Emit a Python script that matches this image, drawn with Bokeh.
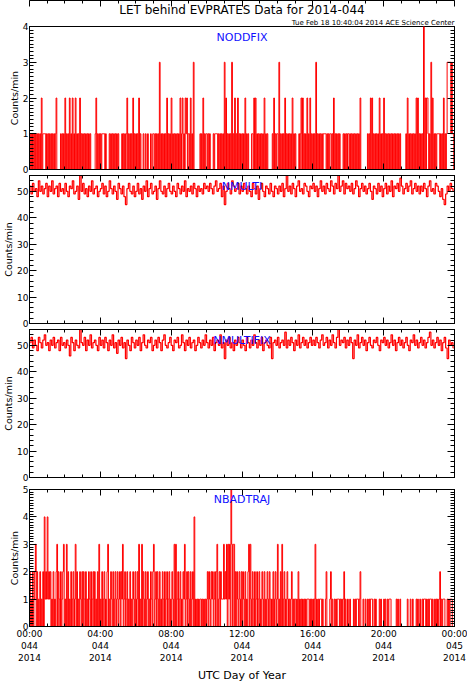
from bokeh.plotting import figure
from bokeh.layouts import column
from bokeh.models import (Range1d, LinearAxis, SingleIntervalTicker, Label, Title,
                          ColumnDataSource, CustomJSTickFormatter)
from bokeh.embed import file_html
from bokeh.resources import INLINE

# ---------------- data ----------------
TITLE = "LET behind EVPRATES Data for 2014-044"
SUBTITLE = "Tue Feb 18 10:40:04 2014 ACE Science Center"
PANEL_NAMES = ["NODDFIX", "NMULTI", "NMULTIFIX", "NBADTRAJ"]
Y_LABEL = "Counts/min"
X_LABEL = "UTC Day of Year"
Y_MAX = [4, 56, 56, 5]
Y_TICK_STEP = [1, 10, 10, 1]
Y_MINOR = [10, 5, 5, 10]
X_TICK_POS = [0, 240, 480, 720, 960, 1200, 1440]          # minutes of day
X_TICK_LABELS = ["00:00\n044\n2014", "04:00\n044\n2014", "08:00\n044\n2014",
                 "12:00\n044\n2014", "16:00\n044\n2014", "20:00\n044\n2014",
                 "00:00\n045\n2014"]

# NODDFIX, read at 2.5-minute resolution (one row = one hour)
noddfix = [
    1,0,1,0,1,0,1,0,1,0,1,0,1,0,1,0,2,0,1,1,1,1,0,1,
    0,1,0,1,0,1,0,1,0,1,0,1,2,0,0,0,0,0,1,0,1,0,1,0,
    2,0,1,0,1,0,2,0,1,0,2,0,1,0,2,0,1,0,1,0,2,0,1,0,
    1,0,1,0,1,0,1,0,1,0,1,0,0,0,0,0,0,1,2,0,1,0,1,0,
    1,0,1,1,1,1,0,1,0,0,0,0,1,0,1,0,1,0,1,0,1,0,1,0,
    1,0,0,0,0,1,0,1,0,1,0,1,2,0,1,0,1,0,1,0,2,0,1,0,
    1,0,1,0,2,0,1,0,0,0,1,0,0,1,0,0,1,0,0,0,1,0,0,1,
    1,0,1,0,1,0,1,0,3,0,1,0,1,0,1,0,1,0,2,0,1,0,1,0,
    2,0,1,0,1,0,1,0,1,0,1,0,2,0,1,2,0,1,0,2,1,2,0,1,
    1,0,2,0,1,0,3,0,0,0,0,0,0,0,0,1,0,1,0,2,0,1,0,1,
    1,0,1,0,1,0,0,0,0,1,0,1,1,1,1,0,1,0,1,0,1,0,1,0,
    3,0,2,0,1,0,1,0,1,0,3,0,1,0,2,0,1,0,2,0,1,0,1,0,
    1,0,1,0,2,0,1,0,1,0,0,0,0,1,1,0,2,0,2,0,1,0,1,0,
    1,0,1,0,1,0,2,0,1,0,1,0,0,0,0,0,0,1,0,2,0,1,0,1,
    1,0,3,0,1,0,1,0,1,0,2,0,1,0,1,0,1,0,1,0,2,0,1,0,
    1,0,0,0,0,1,0,1,2,0,2,0,1,0,1,0,2,0,1,0,2,0,1,0,
    1,0,1,0,3,0,1,0,1,0,1,0,1,0,1,1,1,1,0,1,0,1,0,1,
    1,0,1,0,2,0,1,0,1,0,1,0,1,0,0,0,0,1,0,1,0,1,0,1,
    1,0,1,0,1,0,1,0,1,0,1,0,1,0,1,0,2,0,0,0,0,0,0,0,
    0,0,1,0,1,0,2,0,2,0,1,0,1,0,1,0,1,0,2,0,1,0,1,0,
    2,0,1,0,1,0,1,0,1,0,1,0,1,0,1,0,1,0,1,0,1,0,1,0,
    0,0,0,0,0,0,1,0,2,0,1,0,1,0,1,0,1,0,1,0,2,0,2,0,
    1,0,1,0,1,0,4,0,2,0,2,2,1,0,1,0,3,0,2,0,1,0,1,0,
    1,1,1,1,0,1,0,1,0,2,0,1,0,1,3,3,3,3,3,1,3,1,1,0,
]

# NMULTI, read at 5-minute resolution (one row = two hours)
nmulti = [
    52,49,53,50,51,48,54,50,52,49,51,53,48,52,50,54,49,51,52,48,53,50,51,49,
    53,50,48,52,51,54,49,50,52,47,56,50,53,49,51,48,52,50,54,49,51,52,48,50,
    51,53,49,52,48,50,54,51,49,52,50,47,53,51,49,52,48,45,51,53,50,49,52,48,
    50,53,49,51,47,52,50,54,48,51,53,49,50,52,47,51,54,50,49,52,48,51,53,50,
    49,52,50,48,53,51,49,52,50,54,48,51,50,52,49,53,51,48,52,50,51,49,53,51,
    52,50,53,51,49,52,54,50,51,53,48,52,45,50,53,51,49,54,52,50,51,53,49,52,
    50,53,51,49,52,50,48,53,51,49,52,47,51,53,50,48,52,51,49,53,50,48,52,51,
    49,52,50,53,48,51,56,50,52,49,53,51,48,52,54,50,51,49,53,52,50,48,52,51,
    53,50,52,48,51,54,50,52,49,53,51,50,54,52,49,53,51,56,50,52,54,49,53,51,
    52,50,53,49,51,54,52,48,51,53,50,52,49,51,53,50,47,52,51,49,53,50,52,48,
    51,53,49,52,50,54,48,52,51,53,50,55,52,49,51,53,50,52,54,49,51,53,50,52,
    49,52,50,53,51,48,52,54,50,51,49,53,52,50,48,51,47,45,49,52,50,53,51,50,
]

# NMULTIFIX, read at 5-minute resolution (one row = two hours)
nmultifix = [
    51,53,49,52,50,48,53,51,49,52,54,50,51,48,52,50,53,49,51,52,48,53,50,51,
    49,52,50,46,53,51,48,52,50,49,56,51,50,53,48,52,50,54,49,51,52,50,48,53,
    50,52,49,53,51,48,52,50,54,49,51,47,52,50,53,49,51,45,52,50,48,53,51,49,
    52,50,53,48,51,54,50,49,52,51,53,48,50,52,49,53,51,48,52,54,50,49,51,53,
    50,48,52,51,53,49,50,54,51,48,52,50,53,49,51,52,48,50,53,51,49,52,50,54,
    51,49,52,50,53,48,51,52,50,54,49,51,45,52,50,53,49,51,48,52,50,53,51,49,
    52,50,48,53,51,49,52,50,54,51,49,52,50,53,48,51,52,50,49,53,45,51,52,50,
    53,49,51,52,50,55,49,52,50,53,51,48,52,50,54,49,51,53,50,52,49,51,53,50,
    52,50,53,51,49,52,54,50,51,53,49,52,50,54,51,49,53,56,50,52,51,53,49,52,
    50,53,51,45,52,50,54,49,51,53,50,52,48,51,53,50,49,52,51,53,50,48,52,51,
    53,50,52,49,51,54,50,52,48,51,53,50,52,49,51,53,50,48,52,51,54,50,52,49,
    51,53,50,52,49,51,53,55,50,52,49,51,53,50,52,48,51,53,49,45,52,50,51,49,
]

# NBADTRAJ, read at 2.5-minute resolution (one row = one hour)
nbadtraj = [
    2,0,1,0,2,0,1,2,3,0,2,0,1,0,2,0,1,0,2,0,4,1,2,1,
    4,1,2,1,2,0,1,0,2,0,1,0,2,3,0,2,1,0,2,0,1,2,3,0,
    1,0,3,0,2,0,1,0,2,0,1,2,0,1,3,0,2,0,1,0,2,1,0,2,
    0,2,1,0,2,0,1,0,2,1,0,2,0,1,2,0,2,0,1,0,2,0,3,0,
    1,0,2,0,1,2,0,1,0,2,3,0,1,0,2,1,0,2,0,1,2,0,1,2,
    0,1,2,0,2,1,3,0,1,2,0,1,2,0,1,0,2,0,1,0,2,1,0,2,
    0,1,2,0,3,0,1,0,3,0,2,1,0,2,0,1,2,0,1,0,2,1,0,2,
    3,0,1,2,0,2,1,0,2,0,1,0,2,1,0,2,0,1,2,0,1,2,0,1,
    0,2,1,0,3,0,3,0,1,2,0,1,2,0,1,0,2,1,3,0,1,2,0,2,
    1,0,2,0,1,2,0,4,0,1,0,1,0,1,0,1,1,0,1,0,1,0,1,0,
    1,2,0,2,1,0,2,1,2,0,1,2,0,2,3,0,1,2,0,2,1,1,1,3,
    1,2,1,3,0,3,1,3,0,5,3,0,3,3,0,2,0,2,1,0,2,1,0,2,
    0,2,1,0,2,0,1,0,2,3,0,3,1,0,2,1,0,2,0,1,2,0,1,2,
    0,1,0,2,1,0,2,0,1,0,2,1,0,2,1,0,1,0,2,0,1,2,0,1,
    3,0,1,0,2,0,3,0,1,2,0,1,0,2,1,0,1,0,1,2,0,1,0,1,
    1,0,1,0,2,0,1,0,1,0,1,0,1,0,1,0,1,1,1,0,1,0,1,0,
    1,0,1,3,0,1,0,1,0,1,1,1,0,1,0,0,0,1,2,0,0,0,0,1,
    2,0,1,0,0,1,0,1,0,1,1,1,0,1,0,1,0,1,2,0,1,0,0,1,
    0,0,1,0,0,0,0,1,0,1,0,1,1,1,0,1,2,0,0,0,1,0,0,1,
    0,0,1,0,1,0,1,1,1,0,0,1,0,1,0,0,0,0,1,0,1,0,0,0,
    1,0,1,0,0,1,0,1,1,1,0,0,0,0,0,0,0,1,0,1,0,0,1,0,
    0,0,0,0,0,0,0,0,1,0,0,0,1,0,0,1,0,0,0,0,1,0,1,0,
    0,1,0,0,1,0,1,1,1,0,1,0,1,0,1,1,1,0,1,0,0,1,0,1,
    0,1,0,1,2,0,1,0,1,1,1,0,0,0,1,0,1,0,1,1,1,0,0,0,
]

SERIES = [noddfix, nmulti, nmultifix, nbadtraj]
BIN_MINUTES = [2.5, 5, 5, 2.5]

# ---------------- layout ----------------
FONT = "DejaVu Sans"
W = 467
LEFT = 25
RIGHT = 13
# (fig height, border top, border bottom)
SIZES = [(175, 22, 6), (154, 0, 6), (154, 0, 6), (201, 6, 48)]
LINE_W = [1.0, 1.2, 1.2, 1.0]

overrides = {pos: lab for pos, lab in zip(X_TICK_POS, X_TICK_LABELS)}
BLANK = CustomJSTickFormatter(code="return ''")


def style_axis(ax, show_labels):
    ax.axis_line_color = "black"
    ax.major_tick_line_color = "black"
    ax.minor_tick_line_color = "black"
    ax.major_tick_out = 0
    ax.minor_tick_out = 0
    if show_labels:
        ax.major_label_text_font = FONT
        ax.major_label_text_font_size = "9px"
        ax.major_label_text_color = "black"
        ax.major_label_standoff = 1
    else:
        ax.formatter = BLANK
        ax.major_label_text_font_size = "0px"
        ax.major_label_standoff = 0


figs = []
for k in range(4):
    h, bt, bb = SIZES[k]
    frame_h = h - bt - bb
    ymax = Y_MAX[k]
    p = figure(width=W, height=h, x_range=Range1d(0, 1440), y_range=Range1d(0, ymax),
               x_axis_type=None, y_axis_type=None,
               output_backend="svg", toolbar_location=None,
               min_border_left=LEFT, min_border_right=RIGHT,
               min_border_top=bt, min_border_bottom=bb)
    p.outline_line_color = "black"
    p.outline_line_width = 1
    p.background_fill_color = "white"
    p.border_fill_color = "white"

    if k == 0:
        p.add_layout(Title(text=SUBTITLE, align="right", text_font=FONT, text_font_size="7px",
                           text_font_style="normal", text_color="black", standoff=0), "above")
        p.add_layout(Title(text=TITLE, align="center", text_font=FONT, text_font_size="12px",
                           text_font_style="normal", text_color="black", standoff=0), "above")

    # y axes (left labelled, right mirrored)
    for side in ("left", "right"):
        ax = LinearAxis(ticker=SingleIntervalTicker(interval=Y_TICK_STEP[k], num_minor_ticks=Y_MINOR[k]))
        ax.major_tick_in = 7
        ax.minor_tick_in = 4
        style_axis(ax, side == "left")
        if side == "left":
            ax.axis_label = Y_LABEL
            ax.axis_label_text_font = FONT
            ax.axis_label_text_font_size = "9.5px"
            ax.axis_label_text_font_style = "normal"
            ax.axis_label_text_color = "black"
            ax.axis_label_standoff = 0
        p.add_layout(ax, side)

    # x axes (top mirrored, bottom labelled only on last panel)
    for side in ("above", "below"):
        ax = LinearAxis(ticker=SingleIntervalTicker(interval=240, num_minor_ticks=4))
        ax.major_tick_in = 6
        ax.minor_tick_in = 3
        show = (side == "below" and k == 3)
        style_axis(ax, show)
        if show:
            ax.major_label_overrides = overrides
            ax.major_label_standoff = 2
            ax.axis_label = X_LABEL
            ax.axis_label_text_font = FONT
            ax.axis_label_text_font_size = "11px"
            ax.axis_label_text_font_style = "normal"
            ax.axis_label_text_color = "black"
            ax.axis_label_standoff = 3
        p.add_layout(ax, side)

    vals = SERIES[k]
    b = BIN_MINUTES[k]
    minutes = [i * b + b / 2 for i in range(len(vals))]
    src = ColumnDataSource(dict(t=minutes, v=vals))
    p.step("t", "v", source=src, mode="center", line_color="#ff0000", line_width=LINE_W[k])

    per_px = ymax / frame_h
    p.add_layout(Label(x=720, y=ymax - 11 * per_px, text=PANEL_NAMES[k],
                       text_align="center", text_baseline="middle",
                       text_font=FONT, text_font_size="11px", text_color="#1010ff"))
    figs.append(p)

layout = column(*figs, spacing=0)
open("out.html", "w").write(file_html(layout, INLINE))
